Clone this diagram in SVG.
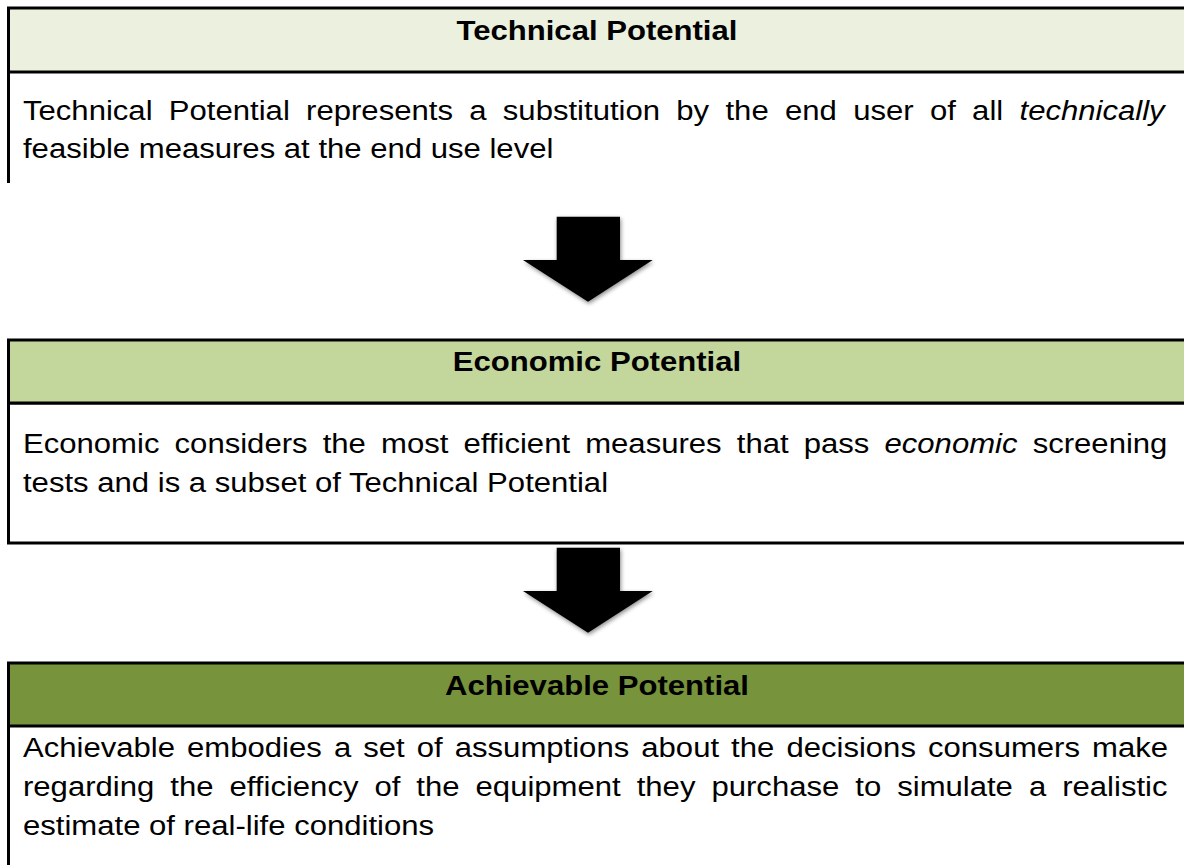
<svg xmlns="http://www.w3.org/2000/svg" width="1184" height="865" viewBox="0 0 1184 865">
  <defs>
    <style>
      .frame { stroke: #000; stroke-width: 3; }
      .head { font-family: "Liberation Sans", Arial, sans-serif; font-size: 28px; font-weight: bold; fill: #000; text-anchor: middle; }
      .body { font-family: "Liberation Sans", Arial, sans-serif; font-size: 28px; fill: #000; }
      .it { font-style: italic; }
    </style>
    <filter id="shadow" x="-20%" y="-20%" width="140%" height="140%">
      <feGaussianBlur in="SourceAlpha" stdDeviation="2"/>
      <feOffset dx="1" dy="2" result="b"/>
      <feFlood flood-color="#000" flood-opacity="0.45"/>
      <feComposite in2="b" operator="in"/>
      <feMerge><feMergeNode/><feMergeNode in="SourceGraphic"/></feMerge>
    </filter>
    <path id="arrow" d="M556.7,216.7 L620,216.7 L620,260 L652.7,260 L588,301.7 L523,260 L556.7,260 Z" fill="#000"/>
  </defs>
  <rect width="1184" height="865" fill="#fff"/>

  <g id="technical">
    <line class="frame" x1="8.5" y1="72" x2="8.5" y2="183"/>
    <rect class="frame" x="8.5" y="8" width="1190" height="64" fill="#EBF1DE"/>
    <text class="head" transform="scale(1.11,1)" x="537.8" y="40">Technical Potential</text>
    <text class="body" transform="scale(1.11,1)" x="20.72" y="120" word-spacing="6.91">Technical Potential represents a substitution by the end user of all <tspan class="it">technically</tspan></text>
    <text class="body" transform="scale(1.11,1)" x="20.72" y="158">feasible measures at the end use level</text>
  </g>

  <g id="economic">
    <rect class="frame" x="8.5" y="403" width="1190" height="140" fill="#fff"/>
    <rect class="frame" x="8.5" y="340" width="1190" height="63" fill="#C3D69B"/>
    <text class="head" transform="scale(1.11,1)" x="537.8" y="371">Economic Potential</text>
    <text class="body" transform="scale(1.11,1)" x="20.72" y="453" word-spacing="5.85">Economic considers the most efficient measures that pass <tspan class="it">economic</tspan> screening</text>
    <text class="body" transform="scale(1.11,1)" x="20.72" y="492">tests and is a subset of Technical Potential</text>
  </g>

  <g id="achievable">
    <line class="frame" x1="8.5" y1="726" x2="8.5" y2="870"/>
    <rect class="frame" x="8.5" y="663" width="1190" height="63" fill="#77933C"/>
    <text class="head" transform="scale(1.11,1)" x="537.8" y="695">Achievable Potential</text>
    <text class="body" transform="scale(1.11,1)" x="20.72" y="757" word-spacing="3.09">Achievable embodies a set of assumptions about the decisions consumers make</text>
    <text class="body" transform="scale(1.11,1)" x="20.72" y="796" word-spacing="6.63">regarding the efficiency of the equipment they purchase to simulate a realistic</text>
    <text class="body" transform="scale(1.11,1)" x="20.72" y="835">estimate of real-life conditions</text>
  </g>

  <g id="connectors">
    <use href="#arrow" filter="url(#shadow)"/>
    <use href="#arrow" transform="translate(0,331)" filter="url(#shadow)"/>
  </g>
</svg>
